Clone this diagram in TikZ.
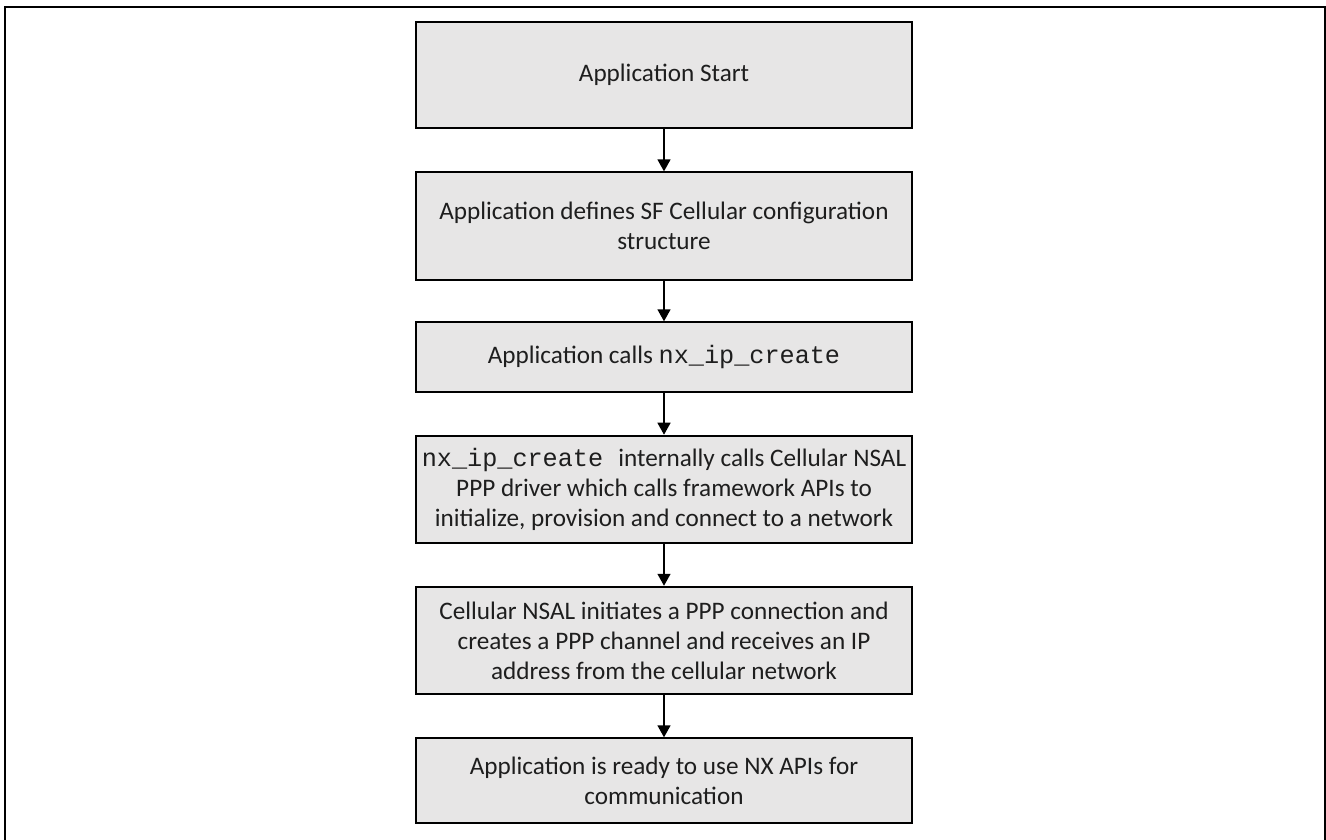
\documentclass[tikz,border=0pt]{standalone}
\usepackage{fontspec}
\setmainfont{Carlito}
\newfontfamily\codefont{Liberation Mono}
\usetikzlibrary{arrows.meta}
\definecolor{boxfill}{RGB}{231,230,230}
\definecolor{ink}{RGB}{30,30,30}
\tikzset{
  stepbox/.style={draw=black, fill=boxfill, line width=2pt,
    minimum width=496pt, align=center, inner xsep=0pt, inner ysep=0pt,
    text=ink, font=\fontsize{25.2}{30}\selectfont},
  flow/.style={line width=1.5pt, -{Triangle[width=13pt,length=12pt]}}
}
\newcommand{\code}[1]{{\codefont #1}}
\begin{document}
\begin{tikzpicture}[x=1pt, y=-1pt]
  \useasboundingbox (0,0) rectangle (1326,839);
  % frame, open at the bottom
  \draw[line width=2.5pt] (5,850) -- (5,7) -- (1325,7) -- (1325,850);

  \node[stepbox, minimum height=106.6pt] (b1) at (664,75) {Application Start};
  \node[stepbox, minimum height=107.7pt] (b2) at (664,226.2)
    {Application defines SF Cellular configuration\\structure};
  \node[stepbox, minimum height=70pt] (b3) at (664,357.3)
    {Application calls \code{nx\_ip\_create}};
  \node[stepbox, minimum height=107.6pt] (b4) at (664,489.5)
    {\code{nx\_ip\_create }internally calls Cellular NSAL\\
     PPP driver which calls framework APIs to\\
     initialize, provision and connect to a network};
  \node[stepbox, minimum height=107.3pt] (b5) at (664,640.4)
    {Cellular NSAL initiates a PPP connection and\\
     creates a PPP channel and receives an IP\\
     address from the cellular network};
  \node[stepbox, minimum height=85pt] (b6) at (664,780.8)
    {Application is ready to use NX APIs for\\communication};

  \draw[flow] (b1) -- (b2);
  \draw[flow] (b2) -- (b3);
  \draw[flow] (b3) -- (b4);
  \draw[flow] (b4) -- (b5);
  \draw[flow] (b5) -- (b6);
\end{tikzpicture}
\end{document}
